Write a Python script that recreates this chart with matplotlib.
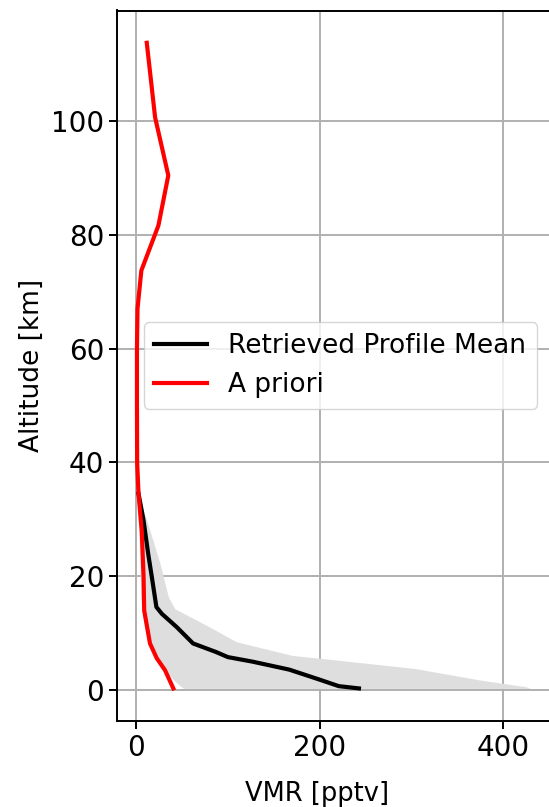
import numpy as np
import matplotlib
matplotlib.use("Agg")
import matplotlib.pyplot as plt

# retrieved profile mean (altitude km, VMR pptv)
alt_mean = [0.3, 0.7, 1.9, 3.6, 5.0, 5.8, 6.7, 8.2, 11.1, 13.4, 14.6, 19.9, 24.0, 29.8, 34.5]
vmr_mean = [243, 221, 199, 167, 127, 100, 87, 62, 44, 28, 22, 17, 13, 8, 2.5]

# spread of the retrievals
alt_fill = [0.3, 0.6, 1.75, 3.8, 5.6, 6.1, 8.5, 11.1, 13.2, 14.3, 16.4, 22.2, 28.0, 32.0, 36.0]
vmr_low = [52, 49, 41, 30, 21, 19, 13, 9, 7, 6, 5, 4, 3, 1.5, 0.5]
vmr_high = [430, 425, 376, 304, 200, 170, 109, 80, 55, 42, 35, 26, 15, 7, 1.5]

# a priori profile
alt_apr = [0.3, 3.5, 5.6, 8.2, 14.0, 20.0, 28.0, 29.8, 34.5, 40.0, 50.0, 60.0, 67.0, 73.7, 81.6, 90.4, 100.6, 113.7]
vmr_apr = [40.5, 31.4, 22.4, 15.0, 8.7, 8.0, 6.0, 5.0, 2.5, 1.0, 0.8, 0.8, 1.4, 5.6, 24.2, 35.0, 20.6, 11.5]

fig = plt.figure(figsize=(5.49, 8.07), dpi=100)
ax = fig.add_axes([117 / 549, 86.3 / 807, 433 / 549, 710.2 / 807])

ax.fill_betweenx(alt_fill, vmr_low, vmr_high, color="0.87", linewidth=0)
ax.plot(vmr_mean, alt_mean, color="black", lw=3, label="Retrieved Profile Mean")
ax.plot(vmr_apr, alt_apr, color="red", lw=3, label="A priori")

ax.set_xlabel("VMR [pptv]", fontsize=18.5)
ax.set_ylabel("Altitude [km]", fontsize=19)
ax.xaxis.set_label_coords(0.462, -0.085)
ax.set_xticks([0, 200, 400])
ax.set_yticks([0, 20, 40, 60, 80, 100])
ax.tick_params(labelsize=20, length=5.8, width=1.4)
for s in ax.spines.values():
    s.set_linewidth(1.4)
ax.grid(True, color="#b0b0b0", lw=1.4)
ax.set_axisbelow(True)
ax.legend(loc="center right", fontsize=19)

fig.savefig("out.png", dpi=100)
